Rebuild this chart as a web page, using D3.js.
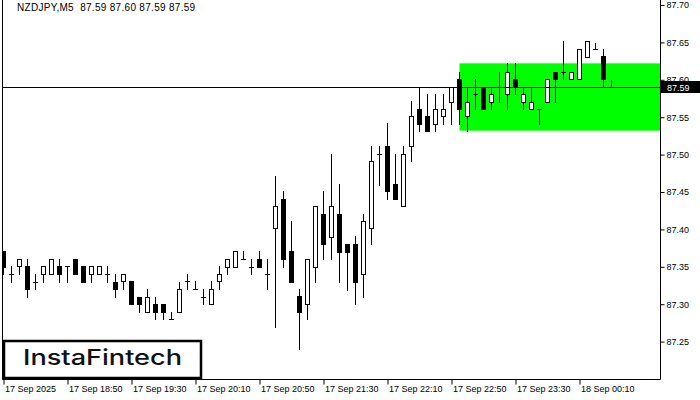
<!DOCTYPE html>
<html><head><meta charset="utf-8">
<script src="https://cdn.jsdelivr.net/npm/d3@7"></script>
<style>body{margin:0;background:#fff}svg{display:block}</style>
</head><body>
<svg id="c" width="700" height="400"></svg>
<script>
const openP  = [87.371,87.341,87.351,87.351,87.330,87.341,87.341,87.351,87.351,87.360,87.351,87.341,87.341,87.341,87.330,87.331,87.331,87.310,87.290,87.300,87.300,87.280,87.290,87.331,87.320,87.310,87.300,87.331,87.350,87.350,87.360,87.350,87.360,87.341,87.402,87.440,87.371,87.311,87.300,87.350,87.420,87.390,87.420,87.380,87.380,87.341,87.402,87.501,87.512,87.461,87.431,87.511,87.561,87.551,87.541,87.551,87.570,87.601,87.551,87.581,87.591,87.571,87.591,87.581,87.601,87.571,87.561,87.561,87.571,87.611,87.611,87.601,87.601,87.631,87.641,87.632,87.59];
const highP  = [87.371,87.351,87.360,87.360,87.341,87.351,87.360,87.360,87.351,87.360,87.351,87.351,87.351,87.351,87.341,87.341,87.331,87.310,87.320,87.310,87.300,87.290,87.330,87.341,87.331,87.320,87.331,87.351,87.360,87.371,87.371,87.360,87.371,87.360,87.471,87.451,87.411,87.320,87.360,87.431,87.451,87.501,87.461,87.380,87.391,87.420,87.511,87.512,87.542,87.501,87.512,87.572,87.591,87.581,87.581,87.581,87.591,87.611,87.591,87.601,87.591,87.591,87.611,87.622,87.622,87.591,87.591,87.561,87.601,87.611,87.652,87.611,87.641,87.652,87.649,87.641,87.60];
const lowP   = [87.341,87.330,87.341,87.310,87.320,87.330,87.341,87.330,87.330,87.341,87.330,87.330,87.341,87.330,87.310,87.320,87.300,87.290,87.290,87.280,87.280,87.280,87.290,87.320,87.320,87.300,87.300,87.320,87.341,87.350,87.360,87.341,87.350,87.320,87.270,87.350,87.330,87.240,87.280,87.330,87.360,87.360,87.330,87.319,87.300,87.310,87.380,87.460,87.440,87.440,87.431,87.491,87.531,87.531,87.531,87.541,87.541,87.541,87.531,87.561,87.561,87.561,87.571,87.561,87.581,87.561,87.561,87.541,87.571,87.571,87.601,87.601,87.601,87.631,87.641,87.591,87.59];
const closeP = [87.350,87.341,87.360,87.320,87.330,87.351,87.360,87.341,87.351,87.341,87.330,87.351,87.351,87.341,87.320,87.341,87.300,87.300,87.310,87.290,87.290,87.280,87.320,87.331,87.320,87.310,87.320,87.341,87.360,87.371,87.360,87.350,87.350,87.341,87.431,87.360,87.330,87.290,87.360,87.431,87.380,87.431,87.370,87.370,87.330,87.411,87.492,87.501,87.451,87.440,87.501,87.551,87.541,87.531,87.561,87.561,87.591,87.561,87.571,87.581,87.561,87.581,87.591,87.611,87.591,87.581,87.571,87.561,87.601,87.601,87.611,87.611,87.641,87.652,87.641,87.601,87.59];
const timeTickBars = [0,8,16,24,32,40,48,56,64,72];
const timeTickLabels = ["17 Sep 2025","17 Sep 18:50","17 Sep 19:30","17 Sep 20:10","17 Sep 20:50","17 Sep 21:30","17 Sep 22:10","17 Sep 22:50","17 Sep 23:30","18 Sep 00:10"];
const priceTicks = [87.25,87.30,87.35,87.40,87.45,87.50,87.55,87.60,87.65,87.70];
const bidPrice = 87.59;
const zoneTop = 87.622, zoneBottom = 87.532, zoneStartBar = 57;
const titleText = "NZDJPY,M5  87.59 87.60 87.59 87.59";
const logoText = "InstaFintech";

const svg = d3.select("#c");
const L = 2.5, R = 660.5, B = 379.5;
const x = d3.scaleLinear().domain([0, openP.length - 1]).range([3.5, 3.5 + 8 * (openP.length - 1)]);
const y = d3.scaleLinear().domain([87.2, 87.7067]).range([379, 0]);
const sy = v => Math.round(y(v)) + 0.5;
const FONT = "Liberation Sans, Arial, sans-serif";

svg.append("defs").append("clipPath").attr("id","clip")
  .append("rect").attr("x", L).attr("y", 0).attr("width", R - L).attr("height", B);

const plot = svg.append("g").attr("clip-path","url(#clip)");

// green zone
plot.append("rect")
  .attr("x", x(zoneStartBar)).attr("y", y(zoneTop))
  .attr("width", R - x(zoneStartBar)).attr("height", y(zoneBottom) - y(zoneTop))
  .attr("fill", "#00ff00");

const data = openP.map((o, i) => ({i, o, h: highP[i], l: lowP[i], c: closeP[i]}));
const g = plot.append("g");
// wicks
g.selectAll("line.w").data(data).join("line").attr("class","w")
  .attr("x1", d => x(d.i)).attr("x2", d => x(d.i))
  .attr("y1", d => sy(d.h) - 0.5).attr("y2", d => sy(d.l) + 0.5)
  .attr("stroke", "#000").attr("stroke-width", 1);
// bodies
const withBody = data.filter(d => Math.abs(sy(d.o) - sy(d.c)) >= 1);
g.selectAll("rect.b").data(withBody).join("rect").attr("class","b")
  .attr("x", d => x(d.i) - 2).attr("width", 4)
  .attr("y", d => Math.min(sy(d.o), sy(d.c)))
  .attr("height", d => Math.abs(sy(d.o) - sy(d.c)))
  .attr("fill", d => d.c >= d.o ? "#fff" : "#000")
  .attr("stroke", "#000").attr("stroke-width", 1);
// dojis
const dojis = data.filter(d => Math.abs(sy(d.o) - sy(d.c)) < 1);
g.selectAll("line.d").data(dojis).join("line").attr("class","d")
  .attr("x1", d => x(d.i) - 2.5).attr("x2", d => x(d.i) + 2.5)
  .attr("y1", d => sy(d.c)).attr("y2", d => sy(d.c))
  .attr("stroke", "#000").attr("stroke-width", 1);

// bid line
plot.append("line").attr("x1", L).attr("x2", R)
  .attr("y1", sy(bidPrice)).attr("y2", sy(bidPrice))
  .attr("stroke", "#000").attr("stroke-width", 1);

// frame
svg.append("path").attr("d", `M${L},0V${B}H${R}V0`).attr("fill","none").attr("stroke","#000").attr("stroke-width",1);

// price axis
const ya = svg.append("g").attr("transform", `translate(${R},0)`)
  .call(d3.axisRight(y).tickValues(priceTicks).tickSize(4).tickPadding(2).tickFormat(d3.format(".2f")));
ya.select(".domain").remove();
ya.selectAll("line").attr("stroke","#000");
ya.selectAll("text").attr("font-family", FONT).attr("font-size", 9).attr("fill","#000");

// time axis
const xa = svg.append("g").attr("transform", `translate(0,${B})`)
  .call(d3.axisBottom(x).tickValues(timeTickBars).tickSize(5)
    .tickFormat((d, k) => timeTickLabels[k]));
xa.select(".domain").remove();
xa.selectAll("line").attr("stroke","#000");
xa.selectAll("text").attr("font-family", FONT).attr("font-size", 9).attr("fill","#000")
  .attr("text-anchor","start").attr("x", 1).attr("y", 6).attr("dy", "0.71em");

// bid label
svg.append("rect").attr("x", 661).attr("y", sy(bidPrice) - 6.5).attr("width", 39).attr("height", 12).attr("fill","#000");
svg.append("text").attr("x", 667).attr("y", sy(bidPrice)).attr("dy","0.35em")
  .attr("font-family", FONT).attr("font-size", 9).attr("fill","#fff").text(bidPrice.toFixed(2));

// title
svg.append("text").attr("x", 17).attr("y", 11).attr("font-family", FONT).attr("font-size", 10)
  .attr("letter-spacing", 0.3).attr("fill","#000").attr("xml:space","preserve")
  .style("white-space","pre").text(titleText);

// logo
svg.append("rect").attr("x", 4).attr("y", 341).attr("width", 197).attr("height", 37)
  .attr("fill","#fff").attr("stroke","#000").attr("stroke-width", 2.5);
svg.append("text").attr("x", 102.5).attr("y", 365).attr("text-anchor","middle")
  .attr("font-family", "Inter, Roboto, sans-serif").attr("font-weight", 500).attr("font-size", 21)
  .attr("textLength", 159).attr("lengthAdjust","spacingAndGlyphs")
  .attr("fill","#111").text(logoText);
</script>
</body></html>
